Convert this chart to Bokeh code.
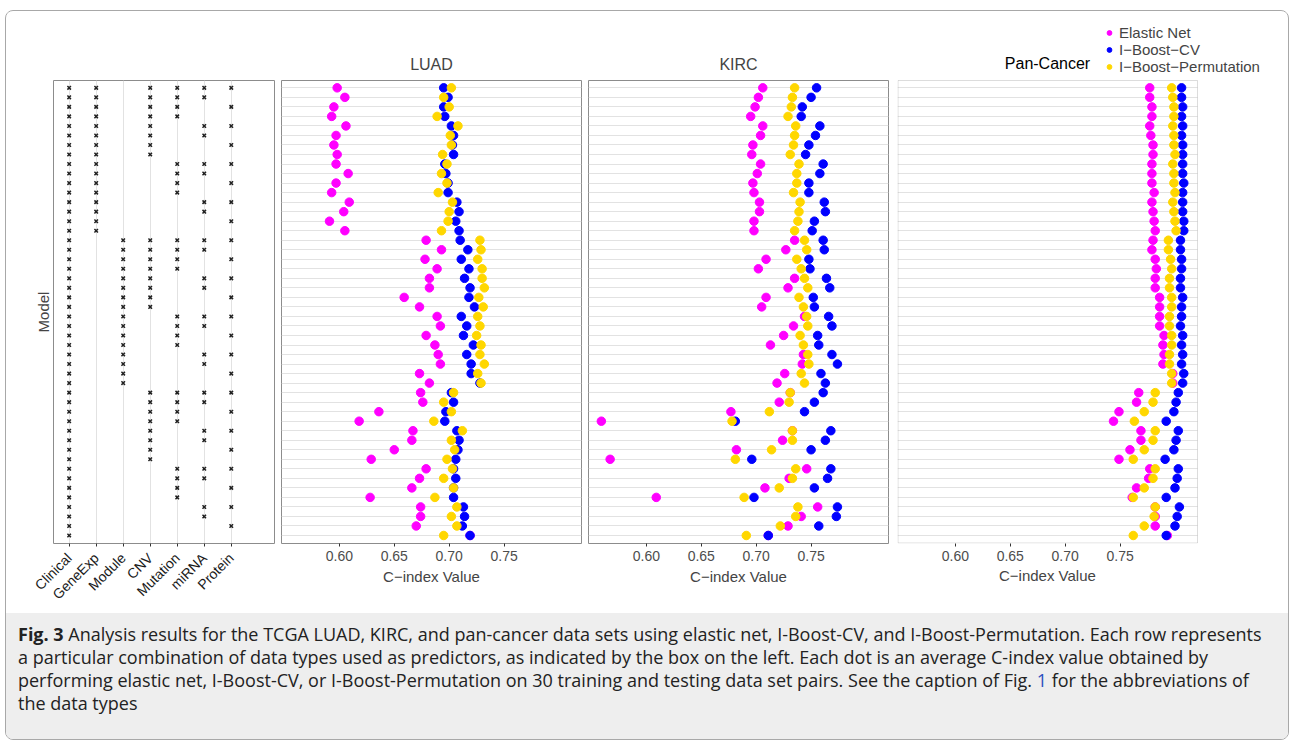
from math import pi
from bokeh.plotting import figure
from bokeh.models import (Range1d, FixedTicker, Legend, LegendItem, Div, Grid, PrintfTickFormatter,
                          BoxAnnotation, Label, Title)
from bokeh.layouts import row, column
from bokeh.embed import file_html
from bokeh.resources import INLINE

# ---------------- data ----------------
data_types = ["Clinical", "GeneExp", "Module", "CNV", "Mutation", "miRNA", "Protein"]
blocks = ["GeneExp", "Module", None]
subsets = [
    ["CNV", "Mutation", "miRNA", "Protein"],
    ["CNV", "Mutation", "miRNA"],
    ["CNV", "Mutation", "Protein"],
    ["CNV", "Mutation"],
    ["CNV", "miRNA", "Protein"],
    ["CNV", "miRNA"],
    ["CNV", "Protein"],
    ["CNV"],
    ["Mutation", "miRNA", "Protein"],
    ["Mutation", "miRNA"],
    ["Mutation", "Protein"],
    ["Mutation"],
    ["miRNA", "Protein"],
    ["miRNA"],
    ["Protein"],
    [],
]

luad_en = [0.598, 0.605, 0.595, 0.593, 0.606, 0.597, 0.595, 0.598, 0.597, 0.608, 0.597, 0.593, 0.609, 0.604, 0.591, 0.605,
           0.679, 0.693, 0.678, 0.689, 0.682, 0.682, 0.659, 0.673, 0.689, 0.692, 0.679, 0.687, 0.690, 0.692, 0.673, 0.682,
           0.674, 0.676, 0.636, 0.618, 0.667, 0.666, 0.650, 0.629, 0.679, 0.673, 0.666, 0.628, 0.674, 0.674, 0.670, 0.719]
luad_cv = [0.695, 0.699, 0.695, 0.696, 0.702, 0.704, 0.703, 0.704, 0.696, 0.697, 0.699, 0.699, 0.707, 0.709, 0.706, 0.709,
           0.710, 0.717, 0.711, 0.718, 0.714, 0.719, 0.718, 0.723, 0.711, 0.716, 0.713, 0.722, 0.716, 0.720, 0.720, 0.728,
           0.702, 0.704, 0.697, 0.696, 0.707, 0.709, 0.708, 0.706, 0.704, 0.706, 0.704, 0.704, 0.713, 0.714, 0.712, 0.719]
luad_perm = [0.702, 0.695, 0.700, 0.689, 0.708, 0.701, 0.702, 0.694, 0.698, 0.693, 0.698, 0.690, 0.703, 0.700, 0.699, 0.693,
             0.728, 0.729, 0.726, 0.730, 0.730, 0.732, 0.727, 0.731, 0.726, 0.728, 0.725, 0.729, 0.728, 0.732, 0.726, 0.729,
             0.704, 0.695, 0.702, 0.686, 0.712, 0.702, 0.705, 0.698, 0.703, 0.695, 0.704, 0.687, 0.707, 0.702, 0.707, 0.695]

kirc_en = [0.706, 0.702, 0.699, 0.695, 0.706, 0.704, 0.697, 0.696, 0.704, 0.701, 0.697, 0.698, 0.703, 0.703, 0.698, 0.698,
           0.735, 0.727, 0.709, 0.702, 0.735, 0.729, 0.709, 0.705, 0.744, 0.734, 0.725, 0.713, 0.743, 0.742, 0.726, 0.719,
           0.731, 0.721, 0.677, 0.559, 0.733, 0.724, 0.682, 0.567, 0.746, 0.730, 0.708, 0.609, 0.756, 0.741, 0.729, 0.711]
kirc_cv = [0.755, 0.750, 0.742, 0.741, 0.758, 0.754, 0.748, 0.745, 0.761, 0.758, 0.748, 0.748, 0.762, 0.763, 0.753, 0.751,
           0.761, 0.762, 0.748, 0.749, 0.764, 0.767, 0.752, 0.753, 0.766, 0.769, 0.756, 0.757, 0.769, 0.774, 0.759, 0.763,
           0.761, 0.753, 0.744, 0.681, 0.768, 0.763, 0.750, 0.696, 0.768, 0.765, 0.753, 0.698, 0.774, 0.773, 0.757, 0.711]
kirc_perm = [0.735, 0.733, 0.732, 0.729, 0.736, 0.735, 0.734, 0.731, 0.739, 0.737, 0.737, 0.734, 0.740, 0.739, 0.738, 0.735,
             0.744, 0.746, 0.737, 0.741, 0.744, 0.747, 0.739, 0.743, 0.746, 0.747, 0.740, 0.743, 0.747, 0.748, 0.741, 0.744,
             0.731, 0.730, 0.712, 0.678, 0.733, 0.733, 0.714, 0.681, 0.736, 0.733, 0.721, 0.689, 0.738, 0.736, 0.722, 0.691]

pan_en = [0.777, 0.777, 0.779, 0.779, 0.777, 0.778, 0.780, 0.780, 0.779, 0.779, 0.779, 0.781, 0.779, 0.780, 0.781, 0.782,
          0.780, 0.779, 0.782, 0.783, 0.782, 0.782, 0.786, 0.786, 0.786, 0.786, 0.790, 0.789, 0.790, 0.789, 0.798, 0.798,
          0.767, 0.765, 0.749, 0.744, 0.769, 0.769, 0.759, 0.749, 0.777, 0.776, 0.765, 0.761, 0.782, 0.782, 0.782, 0.793]
pan_cv = [0.806, 0.806, 0.807, 0.806, 0.807, 0.806, 0.807, 0.807, 0.807, 0.807, 0.808, 0.807, 0.807, 0.807, 0.808, 0.808,
          0.805, 0.805, 0.806, 0.806, 0.805, 0.805, 0.807, 0.806, 0.806, 0.805, 0.807, 0.806, 0.807, 0.806, 0.808, 0.807,
          0.803, 0.801, 0.799, 0.792, 0.803, 0.801, 0.799, 0.791, 0.803, 0.802, 0.800, 0.792, 0.804, 0.802, 0.800, 0.792]
pan_perm = [0.797, 0.798, 0.799, 0.799, 0.798, 0.799, 0.799, 0.800, 0.798, 0.799, 0.799, 0.800, 0.798, 0.799, 0.800, 0.801,
            0.794, 0.794, 0.796, 0.797, 0.795, 0.795, 0.797, 0.797, 0.795, 0.795, 0.797, 0.797, 0.795, 0.795, 0.797, 0.797,
            0.782, 0.780, 0.772, 0.763, 0.782, 0.780, 0.772, 0.762, 0.782, 0.780, 0.772, 0.762, 0.782, 0.781, 0.772, 0.762]

x_ticks = [0.60, 0.65, 0.70, 0.75]
method_names = ["Elastic Net", "I\u2212Boost\u2212CV", "I\u2212Boost\u2212Permutation"]
method_colors = ["#FF00FF", "#0000FF", "#FFD700"]
x_title = "C\u2212index Value"

# ---------------- layout constants ----------------
FONT = "Liberation Sans"
TOP = 69
FRAME_H = 463
BOTTOM = 70
H = TOP + FRAME_H + BOTTOM
EXT_TOP = 66          # Pan-Cancer frame reaches up into the band holding its title and legend
PANEL_W = 300
EXT_RIGHT = 88        # ... and to the right, so the legend is not clipped
X_TITLE_W = 97        # approximate pixel width of the axis title text
rows_idx = list(range(1, 49))
Y_RANGE = (48.84, 0.23)
X_RANGE = (0.5473, 0.8205)
PX_Y = FRAME_H / (Y_RANGE[0] - Y_RANGE[1])
PX_X = PANEL_W / (X_RANGE[1] - X_RANGE[0])
GRID_COLOR = "#e2e2e2"
BORDER_COLOR = "#8c8c8c"


def no_frame_align(p):
    if "frame_align" in p.properties():
        p.frame_align = False


# ---------------- indicator panel ----------------
mx, my = [], []
r = 0
for b in blocks:
    for s in subsets:
        r += 1
        present = ["Clinical"] + ([b] if b else []) + s
        for d in present:
            mx.append(data_types.index(d) + 1)
            my.append(r)

pl = figure(width=271, height=H, x_range=Range1d(0.42, 8.6), y_range=Range1d(*Y_RANGE),
            output_backend="svg", toolbar_location=None,
            min_border_left=47, min_border_right=3, min_border_top=TOP, min_border_bottom=BOTTOM)
no_frame_align(pl)
pl.add_layout(Grid(dimension=1, ticker=FixedTicker(ticks=rows_idx), grid_line_color=GRID_COLOR))
pl.ygrid.visible = False
pl.xgrid.grid_line_color = GRID_COLOR
pl.scatter(mx, my, marker="x", size=5, line_width=1.5, color="#222222")
pl.xaxis.ticker = FixedTicker(ticks=list(range(1, 8)))
pl.xaxis.major_label_overrides = {i + 1: n for i, n in enumerate(data_types)}
pl.xaxis.major_label_orientation = pi / 4
pl.xaxis.major_label_text_font = FONT
pl.xaxis.major_label_text_font_size = "14px"
pl.xaxis.major_label_text_color = "#1a1a1a"
pl.xaxis.major_label_standoff = 9
pl.xaxis.axis_line_color = None
pl.xaxis.major_tick_line_color = "#333333"
pl.xaxis.major_tick_in = 0
pl.xaxis.major_tick_out = 3
pl.xaxis.minor_tick_line_color = None
pl.yaxis.ticker = FixedTicker(ticks=[])
pl.yaxis.minor_tick_line_color = None
pl.yaxis.axis_line_color = None
pl.yaxis.axis_label = "Model"
pl.yaxis.axis_label_text_font = FONT
pl.yaxis.axis_label_text_font_size = "15px"
pl.yaxis.axis_label_text_font_style = "normal"
pl.yaxis.axis_label_standoff = 2
pl.outline_line_color = BORDER_COLOR


def style_xaxis(p, with_label=True):
    p.xaxis.ticker = FixedTicker(ticks=x_ticks)
    p.xaxis.formatter = PrintfTickFormatter(format="%.2f")
    p.xaxis.axis_line_color = None
    p.xaxis.major_tick_line_color = "#333333"
    p.xaxis.major_tick_in = 0
    p.xaxis.major_tick_out = 3
    p.xaxis.minor_tick_line_color = None
    p.xaxis.major_label_text_font = FONT
    p.xaxis.major_label_text_font_size = "14px"
    p.xaxis.major_label_text_color = "#4d4d4d"
    p.xaxis.major_label_standoff = 4
    if with_label:
        p.xaxis.axis_label = x_title
        p.xaxis.axis_label_text_font = FONT
        p.xaxis.axis_label_text_font_size = "15px"
        p.xaxis.axis_label_text_font_style = "normal"
        p.xaxis.axis_label_standoff = 4


def dot_panel(title, en, cv, perm, bl, br, ext_top=0, ext_right=0):
    y_end = Y_RANGE[1] - ext_top / PX_Y
    x_end = X_RANGE[1] + ext_right / PX_X
    width = bl + PANEL_W + ext_right + br
    p = figure(width=width, height=H, x_range=Range1d(X_RANGE[0], x_end), y_range=Range1d(Y_RANGE[0], y_end),
               output_backend="svg", toolbar_location=None, y_axis_location=None,
               min_border_left=bl, min_border_right=br, min_border_top=TOP - ext_top, min_border_bottom=BOTTOM)
    no_frame_align(p)
    p.ygrid.visible = False
    p.xgrid.visible = False
    if ext_right and "cross_bounds" in Grid.properties():
        p.add_layout(Grid(dimension=1, ticker=FixedTicker(ticks=rows_idx), grid_line_color=GRID_COLOR,
                          cross_bounds=(X_RANGE[0], X_RANGE[1])))
    elif ext_right:
        p.segment(x0=X_RANGE[0], x1=X_RANGE[1], y0=rows_idx, y1=rows_idx, line_color=GRID_COLOR,
                  line_width=1, level="underlay")
    else:
        p.add_layout(Grid(dimension=1, ticker=FixedTicker(ticks=rows_idx), grid_line_color=GRID_COLOR))
    rends = []
    for vals, c in zip([en, cv, perm], method_colors):
        rends.append(p.scatter(vals, rows_idx, size=8.5, color=c, line_color=c))
    if ext_top == 0 and ext_right == 0:
        style_xaxis(p)
        p.title.text = title
        p.title.align = "center"
        p.title.text_font = FONT
        p.title.text_font_size = "16px"
        p.title.text_font_style = "normal"
        p.title.standoff = 15
        p.outline_line_color = BORDER_COLOR
    else:
        style_xaxis(p, with_label=False)
        # axis title centred on the panel itself, not on the widened frame
        p.add_layout(Title(text=x_title, align="left", offset=(PANEL_W - X_TITLE_W) / 2, standoff=2,
                           text_font=FONT, text_font_size="15px", text_font_style="normal"), "below")
        p.outline_line_color = None
        p.add_layout(BoxAnnotation(left=0.5, left_units="screen", right=X_RANGE[1],
                                   bottom=0.5, bottom_units="screen", top=Y_RANGE[1],
                                   fill_alpha=0, line_color=BORDER_COLOR, line_width=1))
        p.add_layout(Label(x=(X_RANGE[0] + X_RANGE[1]) / 2, y=FRAME_H + 17, y_units="screen",
                           text=title, text_align="center", text_baseline="middle",
                           text_font=FONT, text_font_size="16px", text_color="#000000"))
    return p, rends


p1, _ = dot_panel("LUAD", luad_en, luad_cv, luad_perm, 4, 3)
p2, _ = dot_panel("KIRC", kirc_en, kirc_cv, kirc_perm, 4, 4)
p3, rends = dot_panel("Pan-Cancer", pan_en, pan_cv, pan_perm, 5, 2, ext_top=EXT_TOP, ext_right=EXT_RIGHT)

legend = Legend(items=[LegendItem(label=n, renderers=[rr]) for n, rr in zip(method_names, rends)],
                location=(206, FRAME_H + 5), orientation="vertical",
                label_text_font=FONT, label_text_font_size="15px",
                glyph_width=12, glyph_height=15, label_height=15, label_standoff=4,
                spacing=-4, padding=0, margin=0,
                border_line_color=None, background_fill_alpha=0)
p3.add_layout(legend, "center")

caption_html = (
    '<span style="font-weight:bold">Fig. 3</span> Analysis results for the TCGA LUAD, KIRC, and pan-cancer data sets using '
    'elastic net, I-Boost-CV, and I-Boost-Permutation. Each row represents<br>'
    'a particular combination of data types used as predictors, as indicated by the box on the left. Each dot is an average '
    'C-index value obtained by<br>'
    'performing elastic net, I-Boost-CV, or I-Boost-Permutation on 30 training and testing data set pairs. See the caption of '
    'Fig. <span style="color:#2a4fbf">1</span> for the abbreviations of<br>'
    'the data types'
)
cap = Div(text=caption_html, width=1282, height=126, margin=0,
          styles={"background-color": "#eeeeee", "font-family": "Open Sans", "font-size": "18px",
                  "line-height": "23px", "padding": "10px 0 0 12px", "box-sizing": "border-box",
                  "color": "#222222", "white-space": "nowrap"})

top = row(pl, p1, p2, p3)
layout = column(top, cap, margin=(10, 1, 0, 5),
                styles={"border": "1px solid #a8a8a8", "border-radius": "8px", "overflow": "hidden"})

open("out.html", "w").write(file_html(layout, INLINE))
